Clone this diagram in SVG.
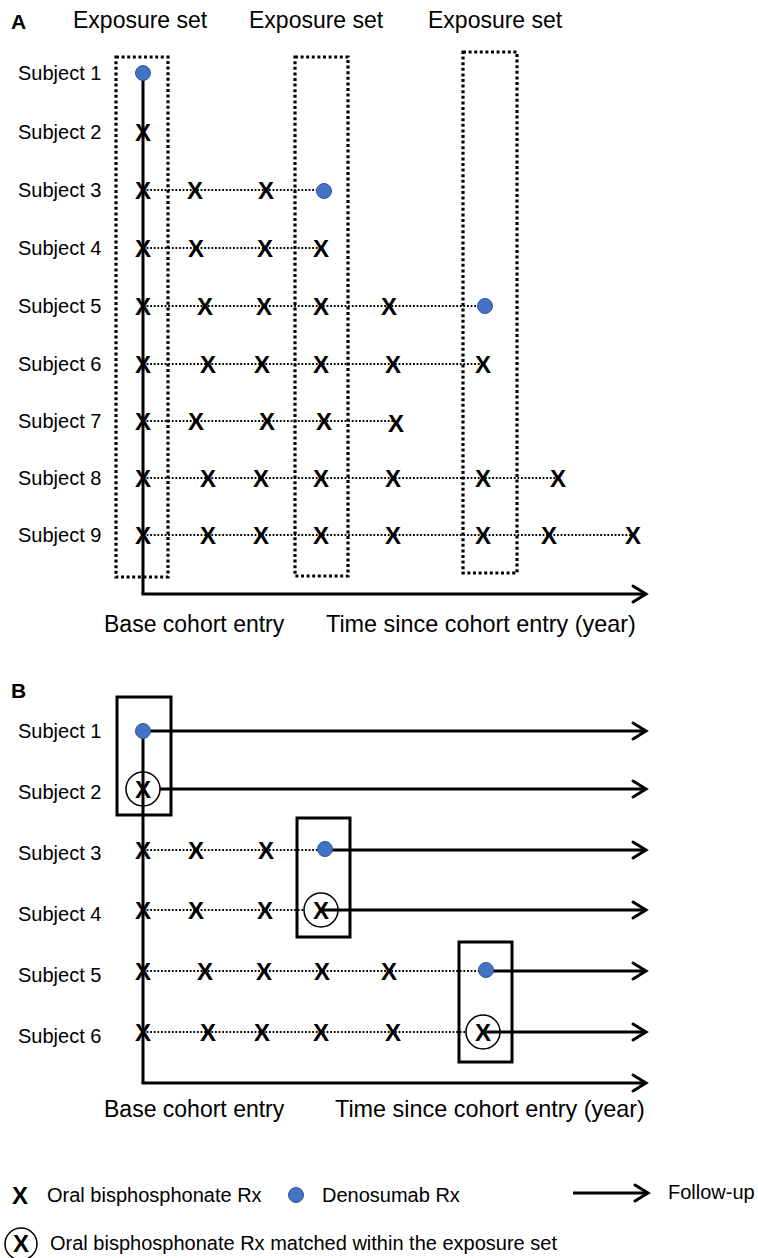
<svg xmlns="http://www.w3.org/2000/svg" width="758" height="1258" viewBox="0 0 758 1258">
  <style>
    text { font-family: "Liberation Sans", Arial, sans-serif; fill: #000; }
    .panel { font-size: 21px; font-weight: bold; }
    .head { font-size: 23px; }
    .tail { font-size: 23.4px; }
    .subj { font-size: 20px; }
    .legend { font-size: 20px; }
    .x { font-size: 24px; font-weight: bold; text-anchor: middle; }
    .dot { fill: #4472C4; stroke: #2F5597; stroke-width: 1; }
    .ring { fill: none; stroke: #000; stroke-width: 1.5; }
    .setdot { fill: none; stroke: #000; stroke-width: 3.2; stroke-dasharray: 3 2.6; }
    .setbox { fill: none; stroke: #000; stroke-width: 3; }
    .dotted { stroke: #000; stroke-width: 1.8; stroke-dasharray: 1.8 1.8; fill: none; }
    .solid { stroke: #000; stroke-width: 3; fill: none; }
    .arrow { stroke: #000; stroke-width: 3; fill: none; marker-end: url(#chev); }
  </style>
  <defs>
    <marker id="chev" markerUnits="userSpaceOnUse" markerWidth="20" markerHeight="20" refX="0" refY="0" orient="auto" overflow="visible">
      <path d="M-13,-8 L0,0 L-13,8" fill="none" stroke="#000" stroke-width="3" stroke-linecap="round" stroke-linejoin="miter"/>
    </marker>
  </defs>

  <!-- ===== Panel A ===== -->
  <text class="panel" x="11" y="29">A</text>
  <text class="head" x="73" y="28">Exposure set</text>
  <text class="head" x="249" y="28">Exposure set</text>
  <text class="head" x="428" y="28">Exposure set</text>

  <g id="a-sets">
    <rect id="a-set-1" class="setdot" x="116" y="57" width="52" height="520"/>
    <rect id="a-set-2" class="setdot" x="295" y="57" width="53" height="519"/>
    <rect id="a-set-3" class="setdot" x="463" y="52" width="54" height="521"/>
  </g>

  <g id="a-connectors">
    <line class="dotted" x1="143" y1="190" x2="324" y2="190"/>
    <line class="dotted" x1="143" y1="248" x2="321" y2="248"/>
    <line class="dotted" x1="143" y1="306" x2="485" y2="306"/>
    <line class="dotted" x1="143" y1="364" x2="483" y2="364"/>
    <line class="dotted" x1="143" y1="421" x2="396" y2="421"/>
    <line class="dotted" x1="143" y1="478" x2="558" y2="478"/>
    <line class="dotted" x1="143" y1="535" x2="633" y2="535"/>
    <line class="solid" x1="143" y1="73" x2="143" y2="594"/>
    <line class="arrow" x1="141.5" y1="594" x2="646" y2="594"/>
  </g>

  <g id="a-subject-1">
    <text class="subj" x="18" y="80">Subject 1</text>
    <circle class="dot" cx="143" cy="73" r="7.5"/>
  </g>
  <g id="a-subject-2">
    <text class="subj" x="18" y="139">Subject 2</text>
    <text class="x" x="143" y="141">X</text>
  </g>
  <g id="a-subject-3">
    <text class="subj" x="18" y="197">Subject 3</text>
    <text class="x" x="143" y="199">X</text>
    <text class="x" x="195" y="199">X</text>
    <text class="x" x="266" y="199">X</text>
    <circle class="dot" cx="324" cy="191" r="7.5"/>
  </g>
  <g id="a-subject-4">
    <text class="subj" x="18" y="255">Subject 4</text>
    <text class="x" x="143" y="257">X</text>
    <text class="x" x="196" y="257">X</text>
    <text class="x" x="265" y="257">X</text>
    <text class="x" x="321" y="257">X</text>
  </g>
  <g id="a-subject-5">
    <text class="subj" x="18" y="313">Subject 5</text>
    <text class="x" x="143" y="315">X</text>
    <text class="x" x="205" y="315">X</text>
    <text class="x" x="264" y="315">X</text>
    <text class="x" x="321" y="315">X</text>
    <text class="x" x="389" y="315">X</text>
    <circle class="dot" cx="485" cy="306" r="7.5"/>
  </g>
  <g id="a-subject-6">
    <text class="subj" x="18" y="371">Subject 6</text>
    <text class="x" x="143" y="373">X</text>
    <text class="x" x="208" y="373">X</text>
    <text class="x" x="262" y="373">X</text>
    <text class="x" x="321" y="373">X</text>
    <text class="x" x="393" y="373">X</text>
    <text class="x" x="483" y="373">X</text>
  </g>
  <g id="a-subject-7">
    <text class="subj" x="18" y="428">Subject 7</text>
    <text class="x" x="143" y="430">X</text>
    <text class="x" x="196" y="430">X</text>
    <text class="x" x="267" y="430">X</text>
    <text class="x" x="324" y="430">X</text>
    <text class="x" x="396" y="432">X</text>
  </g>
  <g id="a-subject-8">
    <text class="subj" x="18" y="485">Subject 8</text>
    <text class="x" x="143" y="487">X</text>
    <text class="x" x="208" y="487">X</text>
    <text class="x" x="261" y="487">X</text>
    <text class="x" x="321" y="487">X</text>
    <text class="x" x="393" y="487">X</text>
    <text class="x" x="483" y="487">X</text>
    <text class="x" x="558" y="487">X</text>
  </g>
  <g id="a-subject-9">
    <text class="subj" x="18" y="542">Subject 9</text>
    <text class="x" x="143" y="544">X</text>
    <text class="x" x="208" y="544">X</text>
    <text class="x" x="261" y="544">X</text>
    <text class="x" x="321" y="544">X</text>
    <text class="x" x="393" y="544">X</text>
    <text class="x" x="483" y="544">X</text>
    <text class="x" x="549" y="544">X</text>
    <text class="x" x="633" y="544">X</text>
  </g>

  <text class="head" x="104" y="632">Base cohort entry</text>
  <text class="tail" x="326" y="632">Time since cohort entry (year)</text>

  <!-- ===== Panel B ===== -->
  <text class="panel" x="11" y="698">B</text>

  <g id="b-sets">
    <rect id="b-set-1" class="setbox" x="117" y="697" width="54" height="118"/>
    <rect id="b-set-2" class="setbox" x="297" y="818" width="53" height="119"/>
    <rect id="b-set-3" class="setbox" x="459" y="942" width="53" height="120"/>
  </g>

  <g id="b-connectors">
    <line class="dotted" x1="143" y1="850" x2="325" y2="850"/>
    <line class="dotted" x1="143" y1="910" x2="305" y2="910"/>
    <line class="dotted" x1="143" y1="971" x2="486" y2="971"/>
    <line class="dotted" x1="143" y1="1032" x2="467" y2="1032"/>
    <line class="solid" x1="143" y1="731" x2="143" y2="1083"/>
    <line class="arrow" x1="143" y1="731" x2="646" y2="731"/>
    <line class="arrow" x1="160" y1="789" x2="646" y2="789"/>
    <line class="arrow" x1="325" y1="850" x2="646" y2="850"/>
    <line class="arrow" x1="321" y1="910" x2="646" y2="910"/>
    <line class="arrow" x1="486" y1="971" x2="646" y2="971"/>
    <line class="arrow" x1="483" y1="1032" x2="646" y2="1032"/>
    <line class="arrow" x1="141.5" y1="1083" x2="646" y2="1083"/>
  </g>

  <g id="b-subject-1">
    <text class="subj" x="18" y="738">Subject 1</text>
    <circle class="dot" cx="143" cy="731" r="7.5"/>
  </g>
  <g id="b-subject-2">
    <text class="subj" x="18" y="799">Subject 2</text>
    <circle class="ring" cx="143" cy="789" r="17"/>
    <text class="x" x="143" y="798">X</text>
  </g>
  <g id="b-subject-3">
    <text class="subj" x="18" y="860">Subject 3</text>
    <text class="x" x="143" y="859">X</text>
    <text class="x" x="196" y="859">X</text>
    <text class="x" x="266" y="859">X</text>
    <circle class="dot" cx="325" cy="849" r="7.5"/>
  </g>
  <g id="b-subject-4">
    <text class="subj" x="18" y="921">Subject 4</text>
    <text class="x" x="143" y="919">X</text>
    <text class="x" x="196" y="919">X</text>
    <text class="x" x="265" y="919">X</text>
    <circle class="ring" cx="321" cy="910" r="17"/>
    <text class="x" x="321" y="919">X</text>
  </g>
  <g id="b-subject-5">
    <text class="subj" x="18" y="982">Subject 5</text>
    <text class="x" x="143" y="980">X</text>
    <text class="x" x="205" y="980">X</text>
    <text class="x" x="264" y="980">X</text>
    <text class="x" x="322" y="980">X</text>
    <text class="x" x="389" y="980">X</text>
    <circle class="dot" cx="486" cy="970" r="7.5"/>
  </g>
  <g id="b-subject-6">
    <text class="subj" x="18" y="1043">Subject 6</text>
    <text class="x" x="143" y="1041">X</text>
    <text class="x" x="208" y="1041">X</text>
    <text class="x" x="262" y="1041">X</text>
    <text class="x" x="321" y="1041">X</text>
    <text class="x" x="393" y="1041">X</text>
    <circle class="ring" cx="483" cy="1032" r="17"/>
    <text class="x" x="483" y="1041">X</text>
  </g>

  <text class="head" x="104" y="1117">Base cohort entry</text>
  <text class="tail" x="335" y="1117">Time since cohort entry (year)</text>

  <!-- ===== Legend ===== -->
  <g id="legend">
    <text class="x" x="20" y="1204">X</text>
    <text class="legend" x="47" y="1202">Oral bisphosphonate Rx</text>
    <circle class="dot" cx="296" cy="1195" r="7.5"/>
    <text class="legend" x="322" y="1202">Denosumab Rx</text>
    <line class="arrow" x1="573" y1="1193" x2="648" y2="1193"/>
    <text class="legend" x="668" y="1199">Follow-up</text>
    <ellipse class="ring" cx="21" cy="1244" rx="16" ry="16"/>
    <text class="x" x="21" y="1252">X</text>
    <text class="legend" x="50" y="1250">Oral bisphosphonate Rx matched within the exposure set</text>
  </g>
</svg>
